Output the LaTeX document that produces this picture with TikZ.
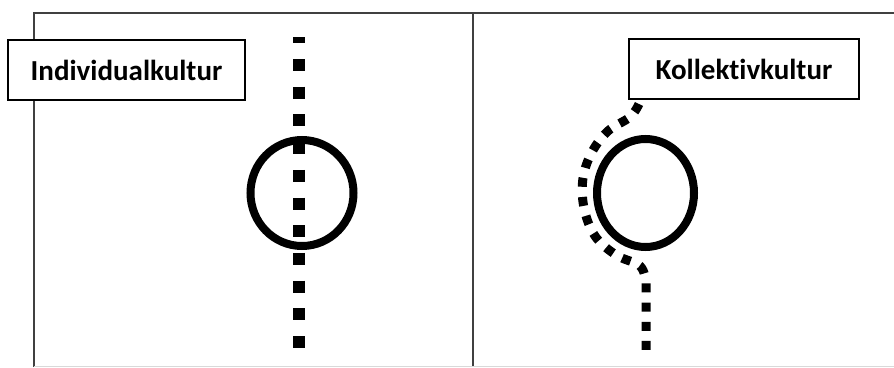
\documentclass[tikz,border=0pt]{standalone}
\usepackage{fontspec}
\setmainfont[Ligatures={NoCommon,NoRare}]{Carlito}
\begin{document}
\begin{tikzpicture}[x=1pt,y=-1pt,
  frameline/.style={draw=black!75,line width=2pt},
  labelbox/.style={draw=black,line width=2pt,fill=white,minimum height=60pt,inner sep=0pt,font=\fontsize{29}{34}\selectfont\bfseries},
  ring/.style={draw=black,line width=8pt},
  bigdots/.style={draw=black,line width=12pt,dash pattern=on 12pt off 15.7pt,dash phase=5.7pt},
  smalldots/.style={draw=black,line width=9pt,dash pattern=on 9pt off 10.2pt}]
\useasboundingbox (0,0) rectangle (894,367);
\fill[white] (0,0) rectangle (894,367);
% frame
\coordinate (tl) at (34,13);
\coordinate (tr) at (894,13);
\coordinate (bl) at (34,367);
\coordinate (mt) at (473,13);
\coordinate (mb) at (473,367);
\draw[frameline] (bl) -- (tl) -- (tr);
\draw[frameline] (mt) -- (mb);
\draw[draw=black!15,line width=1pt] (34,366) -- (894,366);
% left panel
\draw[ring] (302,193) ellipse [x radius=51.5, y radius=53];
\coordinate (l1) at (299,37);
\coordinate (l2) at (299,350);
\draw[bigdots] (l1) -- (l2);
\node[labelbox,minimum width=237pt] (ind) at (126.5,70) {Individualkultur};
% right panel
\draw[ring] (645.5,193) ellipse [x radius=48.5, y radius=54];
\coordinate (r0) at (646,351);
\draw[smalldots] plot[smooth,tension=0.6] coordinates {(639,104) (630,117) (608,131) (592,152) (583,178) (584,208) (595,236) (616,255) (640,266) (646,282)} -- (r0);
\node[labelbox,minimum width=230pt] (kol) at (744,69) {Kollektivkultur};
\end{tikzpicture}
\end{document}
